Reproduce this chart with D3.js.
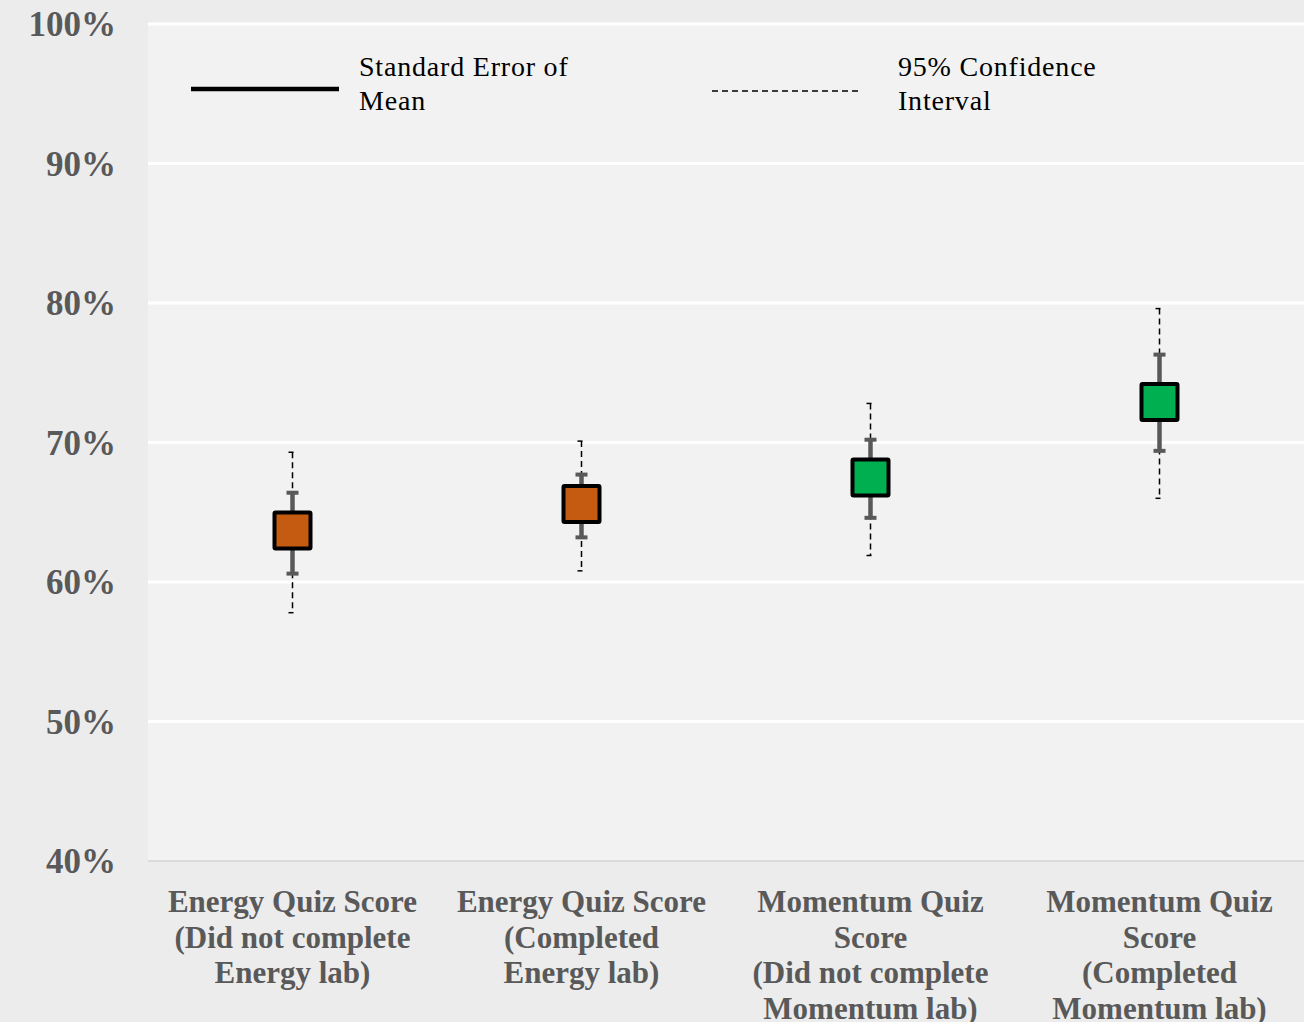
<!DOCTYPE html>
<html><head><meta charset="utf-8">
<script src="https://cdn.jsdelivr.net/npm/d3@7"></script>
<style>
html,body{margin:0;padding:0;background:#ededed;}
svg{display:block;}
</style></head>
<body>
<svg id="chart" width="1304" height="1022"></svg>
<script>
const categories = [
  ["Energy Quiz Score", "(Did not complete", "Energy lab)"],
  ["Energy Quiz Score", "(Completed", "Energy lab)"],
  ["Momentum Quiz", "Score", "(Did not complete", "Momentum lab)"],
  ["Momentum Quiz", "Score", "(Completed", "Momentum lab)"]
];
const means   = [63.7, 65.6, 67.5, 72.9];
const seLow   = [60.6, 63.2, 64.6, 69.4];
const seHigh  = [66.4, 67.7, 70.2, 76.3];
const ciLow   = [57.8, 60.8, 61.9, 66.0];
const ciHigh  = [69.3, 70.1, 72.8, 79.6];
const markerColors = ["#c55a11", "#c55a11", "#00b050", "#00b050"];
const yTicks = [40, 50, 60, 70, 80, 90, 100];
const legendLabels = [["Standard Error of", "Mean"], ["95% Confidence", "Interval"]];

const svg = d3.select("#chart");
const W = 1304, H = 1022;
const plot = {left: 148, right: 1304, top: 24, bottom: 861};

const x = d3.scaleBand().domain(d3.range(categories.length)).range([plot.left, plot.right]);
const y = d3.scaleLinear().domain([40, 100]).range([plot.bottom, plot.top]);

svg.append("rect").attr("width", W).attr("height", H).attr("fill", "#ececec");
svg.append("rect").attr("x", plot.left).attr("y", plot.top)
  .attr("width", plot.right - plot.left).attr("height", plot.bottom - plot.top)
  .attr("fill", "#f2f2f2");

// gridlines
svg.append("g").selectAll("line").data(yTicks.filter(t => t > 40)).join("line")
  .attr("x1", plot.left).attr("x2", plot.right)
  .attr("y1", d => y(d)).attr("y2", d => y(d))
  .attr("stroke", "#ffffff").attr("stroke-width", 3);
svg.append("line").attr("x1", plot.left).attr("x2", plot.right)
  .attr("y1", y(40)).attr("y2", y(40)).attr("stroke", "#d4d4d4").attr("stroke-width", 1.5);

// y axis labels
const yAxis = d3.axisLeft(y).tickValues(yTicks).tickFormat(d => d + "%").tickSize(0).tickPadding(0);
const yg = svg.append("g").attr("transform", `translate(116,0)`).call(yAxis);
yg.select(".domain").remove();
yg.selectAll("text").attr("font-family", "'Liberation Serif', serif").attr("font-weight", "bold")
  .attr("font-size", 35).attr("fill", "#595959").attr("dy", "0.33em");

// x labels
const xl = svg.append("g");
categories.forEach((lines, i) => {
  const t = xl.append("text").attr("x", x(i) + x.bandwidth() / 2).attr("y", 912)
    .attr("text-anchor", "middle").attr("font-family", "'Liberation Serif', serif")
    .attr("font-weight", "bold").attr("font-size", 31).attr("fill", "#595959");
  lines.forEach((l, j) => t.append("tspan").attr("x", x(i) + x.bandwidth() / 2).attr("y", 912 + j * 35.5).text(l));
});

// error bars
const g = svg.append("g");
const cx = i => x(i) + x.bandwidth() / 2;
means.forEach((m, i) => {
  const c = cx(i);
  // CI dashed
  g.append("line").attr("x1", c).attr("x2", c).attr("y1", y(ciHigh[i])).attr("y2", y(ciLow[i]))
    .attr("stroke", "#000").attr("stroke-width", 1.5).attr("stroke-dasharray", "6,4");
  [ciHigh[i], ciLow[i]].forEach(v => g.append("line").attr("x1", c - 4).attr("x2", c + 1)
    .attr("y1", y(v)).attr("y2", y(v)).attr("stroke", "#000").attr("stroke-width", 1.5));
  // SE solid
  g.append("line").attr("x1", c).attr("x2", c).attr("y1", y(seHigh[i])).attr("y2", y(seLow[i]))
    .attr("stroke", "#595959").attr("stroke-width", 4.5);
  [seHigh[i], seLow[i]].forEach(v => g.append("line").attr("x1", c - 6).attr("x2", c + 6)
    .attr("y1", y(v)).attr("y2", y(v)).attr("stroke", "#595959").attr("stroke-width", 4));
  // marker
  g.append("rect").attr("x", c - 18).attr("y", y(m) - 18).attr("width", 36).attr("height", 36)
    .attr("fill", markerColors[i]).attr("stroke", "#000").attr("stroke-width", 4).attr("rx", 1);
});

// legend
const lg = svg.append("g");
lg.append("line").attr("x1", 191).attr("x2", 339).attr("y1", 89).attr("y2", 89)
  .attr("stroke", "#000").attr("stroke-width", 4.5);
lg.append("line").attr("x1", 712).attr("x2", 858).attr("y1", 91).attr("y2", 91)
  .attr("stroke", "#000").attr("stroke-width", 1.5).attr("stroke-dasharray", "6,4");
[[359, legendLabels[0]], [898, legendLabels[1]]].forEach(([lx, lines]) => {
  const t = lg.append("text").attr("font-family", "'Liberation Serif', serif")
    .attr("font-size", 28).attr("letter-spacing", 0.8).attr("fill", "#000");
  lines.forEach((l, j) => t.append("tspan").attr("x", lx).attr("y", 76 + j * 34).text(l));
});
</script>
</body></html>
